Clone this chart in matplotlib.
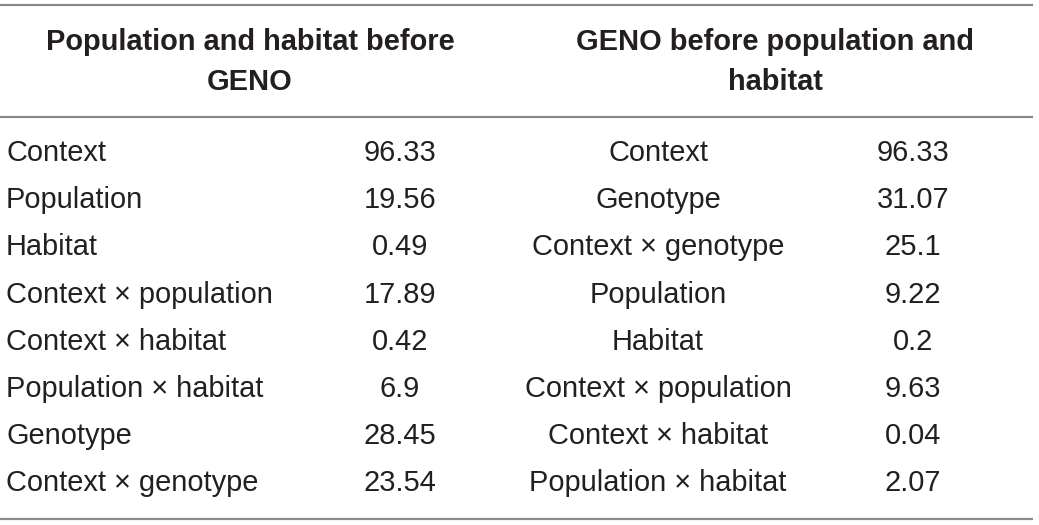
import matplotlib
matplotlib.use("Agg")
import matplotlib.pyplot as plt

# table contents
header_left = "Population and habitat before\nGENO"
header_right = "GENO before population and\nhabitat"

terms_left = ["Context", "Population", "Habitat", "Context \u00d7 population",
              "Context \u00d7 habitat", "Population \u00d7 habitat", "Genotype",
              "Context \u00d7 genotype"]
values_left = ["96.33", "19.56", "0.49", "17.89", "0.42", "6.9", "28.45", "23.54"]

terms_right = ["Context", "Genotype", "Context \u00d7 genotype", "Population",
               "Habitat", "Context \u00d7 population", "Context \u00d7 habitat",
               "Population \u00d7 habitat"]
values_right = ["96.33", "31.07", "25.1", "9.22", "0.2", "9.63", "0.04", "2.07"]

W, H = 1039, 525
fig = plt.figure(figsize=(W / 100, H / 100), dpi=100)
ax = fig.add_axes([0, 0, 1, 1])
ax.set_xlim(0, W)
ax.set_ylim(H, 0)
ax.axis("off")

plt.rcParams['font.family'] = ['Liberation Sans', 'DejaVu Sans']
fs = 20.9
col = "#231f20"

# rules
for y in [5, 117, 519]:
    ax.plot([0, 1033], [y, y], color="#8a8a8a", lw=1.6, solid_capstyle="butt")

# headers
ax.text(250, 62, header_left, ha="center", va="center", fontsize=fs,
        fontweight="bold", color=col, linespacing=1.5)
ax.text(775, 62, header_right, ha="center", va="center", fontsize=fs,
        fontweight="bold", color=col, linespacing=1.5)

row0, step = 153, 47.2
for i in range(len(terms_left)):
    y = row0 + i * step
    ax.text(6, y, terms_left[i], ha="left", va="center", fontsize=fs, color=col)
    ax.text(400, y, values_left[i], ha="center", va="center", fontsize=fs, color=col)
    ax.text(658, y, terms_right[i], ha="center", va="center", fontsize=fs, color=col)
    ax.text(913, y, values_right[i], ha="center", va="center", fontsize=fs, color=col)

fig.savefig("out.png", dpi=100)
